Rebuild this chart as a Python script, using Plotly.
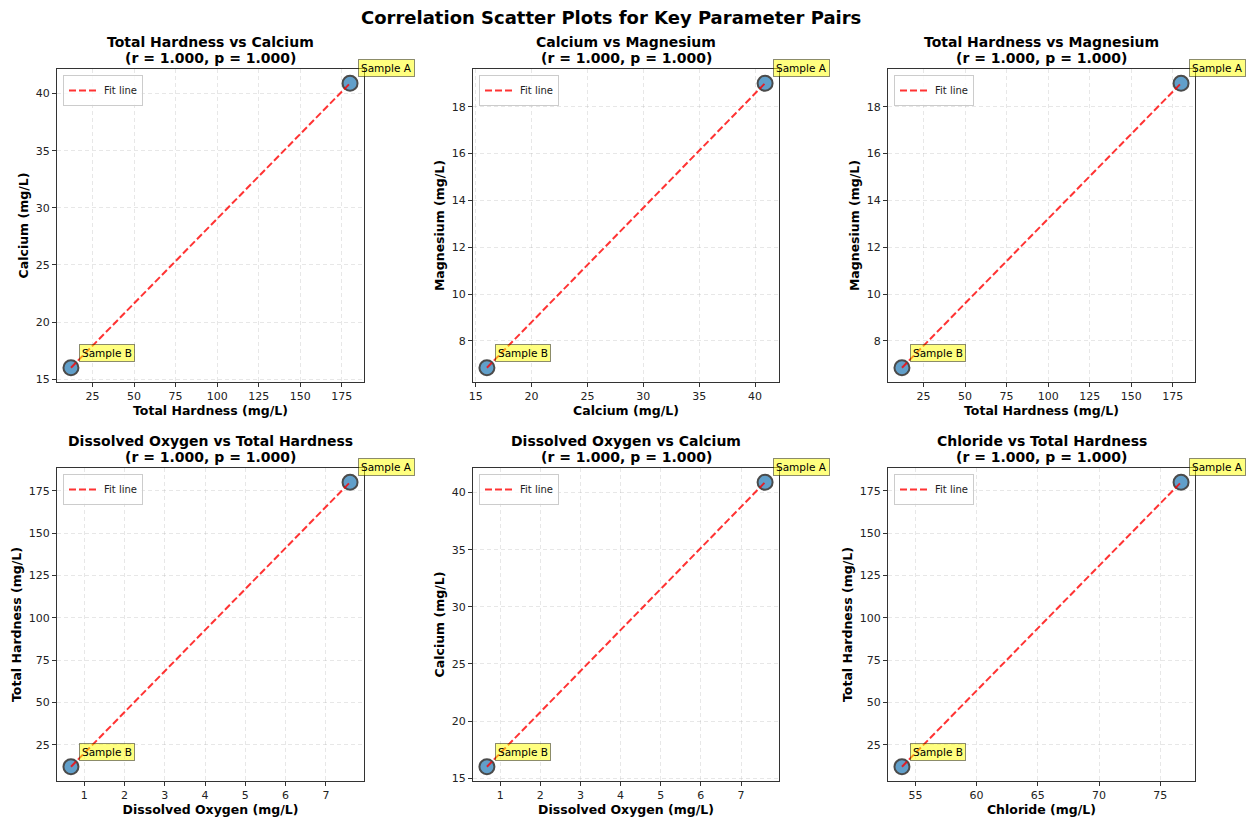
import numpy as np
import plotly.graph_objects as go

# ---- data ----
samples = ["Sample A", "Sample B"]
total_hardness = [180.0, 12.0]
calcium = [40.9, 16.0]
magnesium = [19.0, 6.85]
dissolved_oxygen = [7.6, 0.67]
chloride = [76.7, 53.9]

params = {
    "Total Hardness": total_hardness,
    "Calcium": calcium,
    "Magnesium": magnesium,
    "Dissolved Oxygen": dissolved_oxygen,
    "Chloride": chloride,
}
pairs = [
    ("Total Hardness", "Calcium"),
    ("Calcium", "Magnesium"),
    ("Total Hardness", "Magnesium"),
    ("Dissolved Oxygen", "Total Hardness"),
    ("Dissolved Oxygen", "Calcium"),
    ("Chloride", "Total Hardness"),
]
r_labels = ["1.000"] * 6
p_labels = ["1.000"] * 6
dticks = {"Total Hardness": 25, "Calcium": 5, "Magnesium": 2,
          "Dissolved Oxygen": 1, "Chloride": 5}

W, H = 1253, 823
FONT = "DejaVu Sans"

# axes boxes in pixels (left, right, top, bottom)
col_px = [(57, 364), (473, 779), (888, 1195)]
row_px = [(69, 382), (468, 781)]

fig = go.Figure()
layout = dict(
    width=W, height=H,
    margin=dict(l=0, r=0, t=0, b=0),
    paper_bgcolor="white", plot_bgcolor="white",
    font=dict(family=FONT, color="#222222"),
    showlegend=True,
)
annotations = []


def rng(v):
    lo, hi = min(v), max(v)
    d = hi - lo
    return [lo - 0.05 * d, hi + 0.05 * d]


for i, (xp, yp) in enumerate(pairs):
    r, c = divmod(i, 3)
    n = i + 1
    xa = "x" if n == 1 else f"x{n}"
    ya = "y" if n == 1 else f"y{n}"
    leg = "legend" if n == 1 else f"legend{n}"
    xv, yv = params[xp], params[yp]
    l, rgt = col_px[c]
    t, b = row_px[r]

    fig.add_trace(go.Scatter(
        x=xv, y=yv, mode="markers", xaxis=xa, yaxis=ya, showlegend=False,
        marker=dict(size=15, color="#1f77b4", opacity=0.7,
                    line=dict(color="black", width=2)),
        hoverinfo="skip",
    ))
    coef = np.polyfit(xv, yv, 1)
    fx = [min(xv), max(xv)]
    fy = list(np.polyval(coef, fx))
    fig.add_trace(go.Scatter(
        x=fx, y=fy, mode="lines", xaxis=xa, yaxis=ya, name="Fit line",
        legend=leg, showlegend=True,
        line=dict(color="rgba(255,0,0,0.8)", width=2, dash="7px,3px"),
    ))

    axis_common = dict(
        showline=True, linecolor="#333333", linewidth=1, mirror=True,
        ticks="outside", ticklen=4, tickwidth=1, tickcolor="#333333",
        showgrid=True, gridcolor="rgba(176,176,176,0.3)", griddash="4px,3px",
        gridwidth=1, zeroline=False, automargin=False,
        tickfont=dict(size=11, family=FONT, color="#222222"),
        tickmode="linear", tick0=0,
    )
    layout["xaxis" if n == 1 else f"xaxis{n}"] = dict(
        axis_common, domain=[l / W, rgt / W], anchor=ya, range=rng(xv),
        dtick=dticks[xp],
        title=dict(text=f"<b>{xp} (mg/L)</b>", font=dict(size=12.5, family=FONT, color="black"),
                   standoff=4),
    )
    layout["yaxis" if n == 1 else f"yaxis{n}"] = dict(
        axis_common, domain=[1 - b / H, 1 - t / H], anchor=xa, range=rng(yv),
        dtick=dticks[yp],
        title=dict(text=f"<b>{yp} (mg/L)</b>", font=dict(size=12.5, family=FONT, color="black"),
                   standoff=4),
    )
    layout[leg] = dict(
        x=(l + 6) / W, y=1 - (t + 6) / H, xanchor="left", yanchor="top",
        bgcolor="rgba(255,255,255,0.8)", bordercolor="#cccccc", borderwidth=1,
        font=dict(size=10, family=FONT, color="#222222"),
        itemwidth=30, tracegroupgap=0,
    )
    cx = (l + rgt) / 2 / W
    annotations.append(dict(
        text=f"<b>{xp} vs {yp}</b>", xref="paper", yref="paper",
        x=cx, y=1 - (t - 27) / H, xanchor="center", yanchor="middle",
        showarrow=False, font=dict(size=14, family=FONT, color="black")))
    annotations.append(dict(
        text=f"<b>(r = {r_labels[i]}, p = {p_labels[i]})</b>", xref="paper", yref="paper",
        x=cx, y=1 - (t - 11) / H, xanchor="center", yanchor="middle",
        showarrow=False, font=dict(size=14, family=FONT, color="black")))
    for k, s in enumerate(samples):
        annotations.append(dict(
            text=s, x=xv[k], y=yv[k], xref=xa, yref=ya,
            xanchor="left", yanchor="bottom", xshift=8, yshift=6,
            showarrow=False, font=dict(size=10.5, family=FONT, color="black"),
            bgcolor="rgba(255,255,0,0.5)", bordercolor="rgba(0,0,0,0.45)",
            borderwidth=1, borderpad=2,
        ))

annotations.append(dict(
    text="<b>Correlation Scatter Plots for Key Parameter Pairs</b>",
    xref="paper", yref="paper", x=611 / W, y=1 - 17 / H,
    xanchor="center", yanchor="middle", showarrow=False,
    font=dict(size=18, family=FONT, color="black")))

layout["annotations"] = annotations
fig.update_layout(**layout)
fig.write_html("out.html")
